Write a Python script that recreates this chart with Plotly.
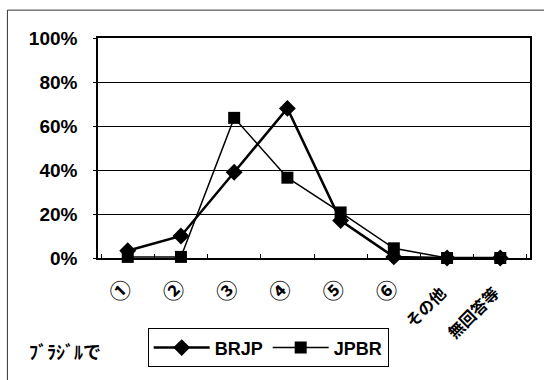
import plotly.graph_objects as go

categories = ["①", "②", "③", "④", "⑤", "⑥", "その他", "無回答等"]
brjp = [0.033, 0.10, 0.39, 0.68, 0.17, 0.005, 0.0, 0.0]
jpbr = [0.005, 0.005, 0.637, 0.365, 0.207, 0.044, 0.0, 0.0]
y_ticks = [0, 0.2, 0.4, 0.6, 0.8, 1.0]
y_labels = ["0%", "20%", "40%", "60%", "80%", "100%"]
note = "ﾌﾞﾗｼﾞﾙで"

FONT = "Liberation Sans, Arial, Noto Sans CJK JP, sans-serif"

# larger rendering for the circled-number labels; word labels pushed a bit further out
tick_text = [
    (f'<span style="font-size:21px">{c}</span>' if len(c) == 1 else c + "\u2002")
    for c in categories
]

fig = go.Figure()
fig.add_trace(go.Scatter(
    x=categories, y=brjp, name="BRJP", mode="lines+markers",
    line=dict(color="black", width=2.5),
    marker=dict(symbol="diamond", size=13, color="black"),
    cliponaxis=False,
))
fig.add_trace(go.Scatter(
    x=categories, y=jpbr, name="JPBR", mode="lines+markers",
    line=dict(color="black", width=1.5),
    marker=dict(symbol="square", size=12, color="black"),
    cliponaxis=False,
))

fig.update_layout(
    width=544, height=380,
    margin=dict(l=98, r=12, t=38, b=121),
    paper_bgcolor="white", plot_bgcolor="white",
    font=dict(family=FONT, color="black"),
    showlegend=True,
    legend=dict(
        orientation="h", x=0.115, y=-0.32, xanchor="left", yanchor="top",
        bordercolor="black", borderwidth=1, bgcolor="white",
        font=dict(size=18, family=FONT, weight="bold"),
        itemwidth=56, tracegroupgap=0,
    ),
    xaxis=dict(
        type="category", categoryorder="array", categoryarray=categories,
        tickvals=categories, ticktext=tick_text,
        showline=True, linecolor="black", linewidth=2, mirror=True,
        ticks="inside", ticklen=4, tickcolor="black", tickson="boundaries",
        tickangle=-45, showgrid=False, ticklabelstandoff=12,
        tickfont=dict(size=16, family="Noto Sans CJK JP, sans-serif", weight="bold"),
    ),
    yaxis=dict(
        range=[0, 1], tickvals=y_ticks, ticktext=y_labels,
        showline=True, linecolor="black", linewidth=1.5, mirror=True,
        showgrid=True, gridcolor="black", gridwidth=1,
        ticks="outside", ticklen=3, tickcolor="black", ticklabelstandoff=12,
        tickfont=dict(size=19, family=FONT, weight="bold"),
        zeroline=False,
    ),
    shapes=[dict(
        type="rect", xref="paper", yref="paper",
        x0=-0.2097, x1=1.3, y0=-1.0, y1=1.1267,
        line=dict(color="#333333", width=1), layer="below",
    )],
    annotations=[dict(
        text=note, xref="paper", yref="paper",
        x=(27 - 98) / 434, y=(259 - 352) / 221, xanchor="left", yanchor="middle",
        showarrow=False,
        font=dict(size=18, family="Noto Sans CJK JP, sans-serif", weight="bold"),
    )],
)

fig.write_html("out.html")
